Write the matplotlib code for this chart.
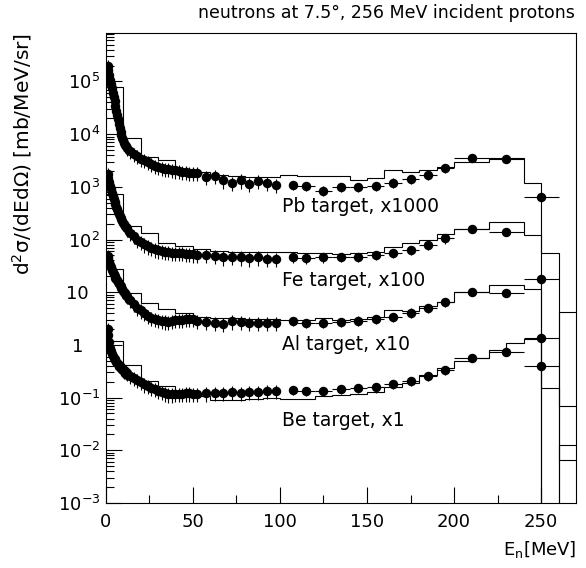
import matplotlib
matplotlib.use("Agg")
import matplotlib.pyplot as plt
import numpy as np
from matplotlib.ticker import FixedLocator, MultipleLocator, NullFormatter

# measured points: neutron energy [MeV], half bin width, relative error
e_data = [1, 1.5, 2, 2.5, 3, 3.5, 4, 4.5, 5, 5.5, 6, 6.5, 7, 7.5, 8, 8.5, 9, 9.5,
          10, 10.5, 11, 11.5, 12,
          14, 16, 18, 20, 22, 24, 26, 28, 30, 32, 34, 36, 38, 40, 42, 44, 46, 48, 50,
          52.5, 57.5, 62.5, 67.5, 72.5, 77.5, 82.5, 87.5, 92.5, 97.5,
          107.5, 115, 125, 135, 145, 155, 165, 175, 185, 195, 210, 230, 250]
e_half = [0.25] * 23 + [1] * 19 + [2.5] * 10 + [2.5] + [5] * 9 + [10] * 3
rel_err = [0.3] * 52 + [0.2] * 10 + [0.1] * 3

pb_data = [2.0e5, 1.66e5, 1.32e5, 1.07e5, 8.9e4, 7.4e4, 6.0e4, 5.0e4, 4.2e4, 3.47e4,
           2.8e4, 2.3e4, 1.9e4, 1.58e4, 1.32e4, 1.12e4, 9.5e3, 8.5e3, 7.6e3, 6.9e3,
           6.3e3, 5.9e3, 5.5e3,
           4.8e3, 4.2e3, 3.8e3, 3.4e3, 3.2e3, 2.95e3, 2.7e3, 2.5e3, 2.4e3, 2.3e3,
           2.2e3, 2.15e3, 2.1e3, 2.05e3, 2.0e3, 1.95e3, 1.9e3, 1.86e3, 1.82e3,
           1.86e3, 1.55e3, 1.62e3, 1.32e3, 1.2e3, 1.32e3, 1.12e3, 1.29e3, 1.2e3, 1.07e3,
           1.07e3, 1.04e3, 850, 1.0e3, 1.0e3, 1.04e3, 1.2e3, 1.41e3, 1.66e3, 2.24e3,
           3.6e3, 3.4e3, 630]
fe_data = [1.78e3, 1.48e3, 1.26e3, 1.05e3, 890, 760, 660, 589, 525, 468,
           417, 376, 339, 309, 282, 260, 240, 224, 209, 195,
           182, 172, 162,
           135, 115, 100, 89, 81, 74, 69, 65, 62, 60,
           59, 58, 56, 56, 55, 55, 54, 54, 52,
           50.8, 50.8, 49, 45.7, 46.8, 45.7, 43.7, 45.7, 43.2, 43.2,
           45.7, 43.7, 45.7, 46.8, 46.8, 50, 55, 63, 79, 105,
           155, 141, 17.8]
al_data = [48, 45, 38, 33, 29.5, 26.3, 24, 22.1, 20.4, 19.0,
           17.8, 16.8, 15.8, 14.8, 13.8, 12.9, 12.0, 11.3, 10.7, 10.1,
           9.5, 9.0, 8.5,
           7.1, 5.9, 5.0, 4.5, 4.0, 3.6, 3.3, 3.1, 2.95, 2.9,
           2.8, 2.75, 2.9, 2.95, 2.95, 3.0, 3.1, 3.15, 3.15,
           2.9, 2.7, 2.57, 2.5, 2.8, 2.72, 2.63, 2.57, 2.57, 2.57,
           2.8, 2.63, 2.63, 2.7, 2.9, 3.1, 3.4, 4.1, 5.0, 6.5,
           10.2, 9.8, 1.38]
be_data = [2.0, 1.51, 1.12, 0.89, 0.76, 0.68, 0.62, 0.575, 0.54, 0.507,
           0.48, 0.457, 0.44, 0.417, 0.40, 0.38, 0.36, 0.35, 0.34, 0.327,
           0.32, 0.305, 0.295,
           0.26, 0.234, 0.214, 0.195, 0.178, 0.166, 0.155, 0.145, 0.135, 0.129,
           0.12, 0.115, 0.115, 0.117, 0.117, 0.117, 0.12, 0.12, 0.117,
           0.116, 0.12, 0.124, 0.124, 0.126, 0.124, 0.129, 0.129, 0.133, 0.133,
           0.139, 0.135, 0.135, 0.144, 0.15, 0.156, 0.179, 0.206, 0.26, 0.334,
           0.57, 0.72, 0.40]

# calculation, 10 MeV bins from 0 to 270 MeV
hist_edges = list(range(0, 280, 10))
pb_hist = [7.9e4, 8.3e3, 3.7e3, 3.2e3, 2.2e3, 1.9e3, 1.65e3, 1.6e3, 1.55e3, 1.55e3,
           1.65e3, 1.6e3, 1.6e3, 1.6e3, 1.35e3, 1.45e3, 2.05e3, 1.9e3, 2.1e3, 2.4e3,
           3.0e3, 3.0e3, 3.5e3, 3.5e3, 1.2e3, 0, 4.3]
fe_hist = [740, 178, 132, 87, 74, 65, 60, 59, 58, 58,
           59, 55, 55, 54, 55, 59, 73, 85, 100, 126,
           155, 155, 219, 219, 122, 55, 0.068]
al_hist = [28, 9.5, 6.2, 4.9, 4.0, 3.4, 3.2, 3.2, 3.1, 3.1,
           2.95, 3.0, 3.2, 3.0, 3.1, 3.4, 4.6, 4.4, 5.5, 6.6,
           10.2, 10.2, 13.8, 13.8, 11.5, 0, 0.0126]
be_hist = [1.17, 0.42, 0.21, 0.166, 0.129, 0.105, 0.091, 0.091, 0.093, 0.098,
           0.093, 0.093, 0.105, 0.112, 0.117, 0.129, 0.158, 0.19, 0.27, 0.36,
           0.50, 0.56, 0.79, 1.07, 1.32, 0.151, 0.0066]

labels = ["Pb target, x1000", "Fe target, x100", "Al target, x10", "Be target, x1"]
label_y = [420, 17, 1.0, 0.037]

ytick_vals = [1e-3, 1e-2, 1e-1, 1, 10, 1e2, 1e3, 1e4, 1e5]
ytick_labels = [r"$\mathregular{10^{-3}}$", r"$\mathregular{10^{-2}}$",
                r"$\mathregular{10^{-1}}$", "1   ", "10  ",
                r"$\mathregular{10^{2}}$", r"$\mathregular{10^{3}}$",
                r"$\mathregular{10^{4}}$", r"$\mathregular{10^{5}}$"]

plt.rcParams['font.family'] = ['DejaVu Sans']
fig = plt.figure(figsize=(5.86, 5.68), dpi=100)
ax = fig.add_axes([105.8 / 586, 65 / 568, 470.2 / 586, 470 / 568])

for data, hist in [(pb_data, pb_hist), (fe_data, fe_hist), (al_data, al_hist), (be_data, be_hist)]:
    ax.stairs(hist, hist_edges, baseline=None, color='black', lw=0.8)
    y = np.array(data)
    ax.errorbar(e_data, y, xerr=e_half, yerr=np.array(rel_err) * y, fmt='o',
                color='black', ms=5.8, elinewidth=0.8, capsize=0)

for txt, yy in zip(labels, label_y):
    ax.text(101, yy, txt, fontsize=13.5, va='center', ha='left')

ax.set_yscale('log')
ax.set_xlim(0, 270)
ax.set_ylim(1e-3, 8.3e5)

ax.xaxis.set_major_locator(MultipleLocator(50))
ax.xaxis.set_minor_locator(MultipleLocator(25))
ax.yaxis.set_major_locator(FixedLocator(ytick_vals))
ax.set_yticklabels(ytick_labels)
minor = [m * 10.0 ** k for k in range(-3, 6) for m in range(2, 10)]
ax.yaxis.set_minor_locator(FixedLocator(minor))
ax.yaxis.set_minor_formatter(NullFormatter())

ax.tick_params(which='both', direction='in', top=False, right=False, width=0.8, labelsize=13)
ax.tick_params(which='major', length=11.5)
ax.tick_params(which='minor', length=5.5)
ax.tick_params(axis='x', pad=7)
ax.tick_params(axis='y', pad=4)
for sp in ax.spines.values():
    sp.set_linewidth(0.8)

fig.text(386 / 586, 1 - 13 / 568, "neutrons at 7.5°, 256 MeV incident protons",
         fontsize=12.5, ha='center', va='center')
fig.text(22 / 586, 1 - 33 / 568, r"d$\mathregular{^2}$σ/(dEdΩ) [mb/MeV/sr]",
         fontsize=14.5, rotation=90, ha='center', va='top')
fig.text(576 / 586, 1 - 550 / 568, r"E$\mathregular{_n}$[MeV]", fontsize=13,
         ha='right', va='center')

fig.savefig("out.png", dpi=100)
